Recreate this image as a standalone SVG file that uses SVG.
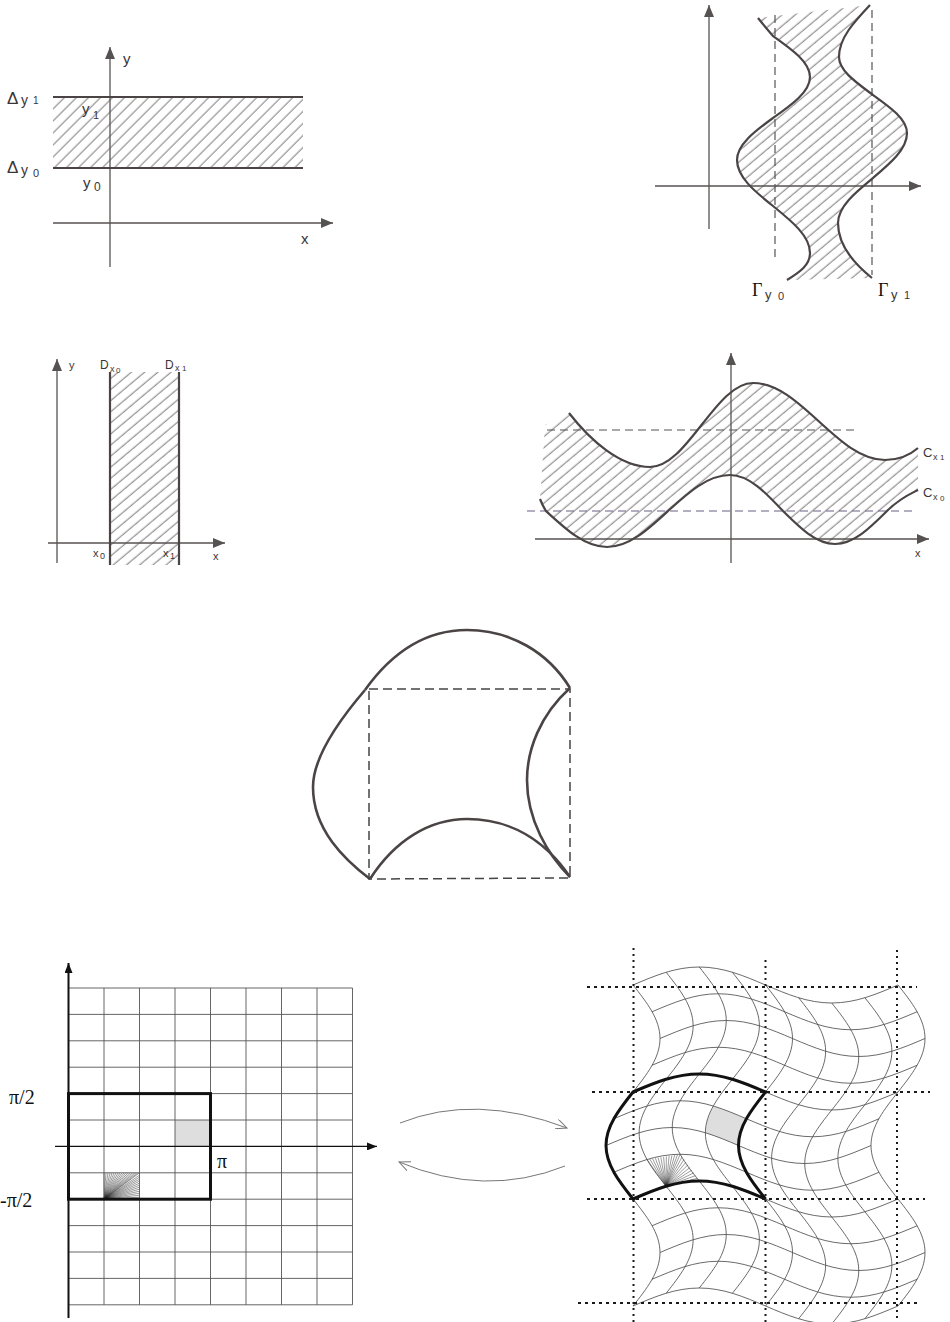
<svg xmlns="http://www.w3.org/2000/svg" xmlns:xlink="http://www.w3.org/1999/xlink" width="950" height="1322" viewBox="0 0 950 1322">
<style>
.ax{stroke:#575252;stroke-width:1.3;fill:none}
.bd{stroke:#4b4444;stroke-width:2.2;fill:none}
.ds{stroke:#555;stroke-width:1.2;fill:none;stroke-dasharray:8 5}
.t{font-family:"Liberation Sans",Arial,sans-serif;fill:#3a3535}
.ts{font-family:"Liberation Serif","Times New Roman",serif;fill:#111}
.gr{stroke:#555;stroke-width:0.9;fill:none}
.wg{stroke:#444;stroke-width:0.8;fill:none}
.dot{stroke:#1a1a1a;stroke-width:2;fill:none;stroke-dasharray:2 4}
.thick{stroke:#111;stroke-width:3;fill:none;stroke-linejoin:miter}
</style>
<defs>
<marker id="ah" viewBox="0 0 12 10" refX="12" refY="5" markerWidth="12" markerHeight="10" markerUnits="userSpaceOnUse" orient="auto"><path d="M0,0 L12,5 L0,10 z" fill="#575252"/></marker>
<marker id="ahk" viewBox="0 0 10 8" refX="10" refY="4" markerWidth="10" markerHeight="8" markerUnits="userSpaceOnUse" orient="auto"><path d="M0,0 L10,4 L0,8 z" fill="#111"/></marker>
<marker id="oa" viewBox="0 0 12 10" refX="11" refY="5" markerWidth="12" markerHeight="10" markerUnits="userSpaceOnUse" orient="auto"><path d="M0,0 L11,5 L0,10" fill="none" stroke="#777" stroke-width="1"/></marker>
<pattern id="h45" patternUnits="userSpaceOnUse" width="8.5" height="8.5" patternTransform="rotate(45)"><line x1="4" y1="0" x2="4" y2="8.5" stroke="#5a5555" stroke-width="0.8"/></pattern>
<pattern id="h50" patternUnits="userSpaceOnUse" width="8.5" height="8.5" patternTransform="rotate(50)"><line x1="4" y1="0" x2="4" y2="8.5" stroke="#5a5555" stroke-width="0.8"/></pattern>
<clipPath id="c2"><path d="M758,18 C762,23 767,29 773,36 C791.9,49.4 810,62.2 810,77 C810,91.8 791.9,104.6 773,118 C754.1,131.7 737,144.8 737,160 C737,176.7 754.1,191 773,206 C791.9,221.3 810,236 810,253 C810,265 800,272 787,280 L872,278 C852,262 838,243 838,223 C838,206.7 855.1,192.7 873,178 C890.4,163.3 907,149.3 907,133 C907,119.2 890.4,107.4 873,95 C856.4,82.6 839,70.8 839,57 C839,38 854,22 870,5 Z"/></clipPath>
<clipPath id="c4"><path d="M545,425 L569,413 C590,440 620,467 650,467 C668.6,467 684.7,446.5 701.5,425 C718.3,403.5 734.4,383 753,383 C776.9,383 797.5,401.8 819,421.5 C840.5,441.2 861.1,460 885,460 C900,460 910,455 918,448 L918,490 C910,494 900,498 887,511 C870,527.9 853.8,544 835,544 C816.2,544 800,527.9 783,511 C765.7,492.6 749.2,475 730,475 C707.6,475 688.2,492.6 668,511 C648.1,529.4 629.1,547 607,547 C584.9,547 565.9,529.4 546,511 C544,508 542,504 540,499 Z"/></clipPath>
<path id="vl" d="M633,985 C646.83,1002.45 660,1019.14 660,1038.5 C660,1057.86 646.83,1074.55 633,1092 C619.17,1109.45 606,1126.14 606,1145.5 C606,1164.86 619.17,1181.55 633,1199 C646.83,1216.45 660,1233.14 660,1252.5 C660,1271.86 646.83,1288.55 633,1306"/>
<path id="hl" d="M633,1145.5 C654.61,1136.28 675.28,1127.5 699.25,1127.5 C723.23,1127.5 743.9,1136.28 765.5,1145.5 C787.11,1154.72 807.78,1163.5 831.75,1163.5 C855.73,1163.5 876.4,1154.72 898,1145.5"/>
</defs>
<rect width="950" height="1322" fill="#fff"/>

<g id="panel-horizontal-strip">
<rect x="53" y="97" width="250" height="71" fill="url(#h45)"/>
<line class="ax" x1="110" y1="267" x2="110" y2="47" marker-end="url(#ah)"/>
<line class="ax" x1="53" y1="223" x2="333" y2="223" marker-end="url(#ah)"/>
<line class="bd" x1="53" y1="97" x2="303" y2="97"/>
<line class="bd" x1="53" y1="168" x2="303" y2="168"/>
<text class="t" x="123" y="64" font-size="15">y</text>
<text class="t" x="301" y="244" font-size="15">x</text>
<text class="t" x="7" y="104" font-size="17">Δ</text><text class="t" x="21" y="105" font-size="14">y</text><text class="t" x="33" y="104" font-size="10">1</text>
<text class="t" x="7" y="173" font-size="17">Δ</text><text class="t" x="21" y="175" font-size="14">y</text><text class="t" x="33" y="177" font-size="11">0</text>
<text class="t" x="82" y="114" font-size="15">y</text><text class="t" x="93" y="119" font-size="11">1</text>
<text class="t" x="83" y="188" font-size="15">y</text><text class="t" x="94" y="191" font-size="12">0</text>
</g>

<g id="panel-gamma">
<rect x="730" y="0" width="190" height="285" fill="url(#h50)" clip-path="url(#c2)"/>
<line class="ax" x1="709" y1="229" x2="709" y2="5" marker-end="url(#ah)"/>
<line class="ax" x1="655" y1="186" x2="921" y2="186" marker-end="url(#ah)"/>
<line class="ds" x1="775" y1="15" x2="775" y2="258"/>
<line class="ds" x1="872" y1="10" x2="872" y2="275"/>
<path class="bd" d="M758,18 C762,23 767,29 773,36 C791.9,49.4 810,62.2 810,77 C810,91.8 791.9,104.6 773,118 C754.1,131.7 737,144.8 737,160 C737,176.7 754.1,191 773,206 C791.9,221.3 810,236 810,253 C810,265 800,272 787,280"/>
<path class="bd" d="M870,5 C854,22 839,38 839,57 C839,70.8 856.4,82.6 873,95 C890.4,107.4 907,119.2 907,133 C907,149.3 890.4,163.3 873,178 C855.1,192.7 838,206.7 838,223 C838,243 852,262 872,278"/>
<text class="ts" x="752" y="296" font-size="18" fill="#3a3535">Γ</text><text class="t" x="765" y="299" font-size="13">y</text><text class="t" x="778" y="300" font-size="11">0</text>
<text class="ts" x="878" y="296" font-size="18" fill="#3a3535">Γ</text><text class="t" x="891" y="299" font-size="13">y</text><text class="t" x="904" y="299" font-size="11">1</text>
</g>

<g id="panel-vertical-strip">
<rect x="110" y="372" width="69" height="193" fill="url(#h50)"/>
<line class="ax" x1="57" y1="563" x2="57" y2="359" marker-end="url(#ah)"/>
<line class="ax" x1="48" y1="543" x2="225" y2="543" marker-end="url(#ah)"/>
<line class="bd" x1="110" y1="372" x2="110" y2="565"/>
<line class="bd" x1="179" y1="372" x2="179" y2="565"/>
<text class="t" x="69" y="369" font-size="11">y</text>
<text class="t" x="100" y="369" font-size="12">D</text><text class="t" x="110" y="372" font-size="9">x</text><text class="t" x="116" y="373" font-size="8">0</text>
<text class="t" x="165" y="369" font-size="12">D</text><text class="t" x="175" y="371" font-size="9">x</text><text class="t" x="182" y="371" font-size="8">1</text>
<text class="t" x="93" y="557" font-size="11">x</text><text class="t" x="100" y="559" font-size="9">0</text>
<text class="t" x="163" y="557" font-size="11">x</text><text class="t" x="170" y="559" font-size="9">1</text>
<text class="t" x="213" y="560" font-size="11">x</text>
</g>

<g id="panel-wave-band">
<rect x="535" y="375" width="390" height="180" fill="url(#h50)" clip-path="url(#c4)"/>
<line class="ax" x1="731" y1="563" x2="731" y2="353" marker-end="url(#ah)"/>
<line class="ax" x1="535" y1="539" x2="929" y2="539" marker-end="url(#ah)"/>
<line class="ds" x1="547" y1="430" x2="858" y2="430"/>
<line class="ds" x1="527" y1="511" x2="917" y2="511" style="stroke:#6a5f85"/>
<path class="bd" d="M569,413 C590,440 620,467 650,467 C668.6,467 684.7,446.5 701.5,425 C718.3,403.5 734.4,383 753,383 C776.9,383 797.5,401.8 819,421.5 C840.5,441.2 861.1,460 885,460 C900,460 910,455 918,448"/>
<path class="bd" d="M540,499 C542,504 544,508 546,511 C565.9,529.4 584.9,547 607,547 C629.1,547 648.1,529.4 668,511 C688.2,492.6 707.6,475 730,475 C749.2,475 765.7,492.6 783,511 C800,527.9 816.2,544 835,544 C853.8,544 870,527.9 887,511 C900,498 910,494 918,490"/>
<text class="t" x="923" y="457" font-size="13">C</text><text class="t" x="933" y="460" font-size="9">x</text><text class="t" x="940" y="460" font-size="8">1</text>
<text class="t" x="923" y="497" font-size="13">C</text><text class="t" x="933" y="500" font-size="9">x</text><text class="t" x="940" y="501" font-size="8">0</text>
<text class="t" x="915" y="557" font-size="11">x</text>
</g>

<g id="panel-curved-square">
<path d="M369,689 L570,689 L570,878 L369,879 Z" fill="none" stroke="#444" stroke-width="1.5" stroke-dasharray="9 5"/>
<path class="bd" style="stroke-width:2.6" d="M365,690 C395,648 430,630 467,630 C510,630 548,652 570,688"/>
<path class="bd" style="stroke-width:2.6" d="M365,690 C335,725 313,760 313,787 C313,830 345,860 370,879"/>
<path class="bd" style="stroke-width:2.6" d="M570,688 C540,715 527,750 527,780 C527,820 548,855 570,877"/>
<path class="bd" style="stroke-width:2.6" d="M370,879 C395,840 430,819 467,819 C510,819 545,840 570,877"/>
</g>

<g id="panel-grid">
<rect x="175" y="1120" width="35.5" height="26.4" fill="#dedede"/>
<path stroke="#222" stroke-width="0.45" fill="none" d="M104,1199.2 l0,-26.4 M104,1199.2 l2,-26.4 M104,1199.2 l4,-26.4 M104,1199.2 l6,-26.4 M104,1199.2 l8,-26.4 M104,1199.2 l10,-26.4 M104,1199.2 l12,-26.4 M104,1199.2 l14,-26.4 M104,1199.2 l16,-26.4 M104,1199.2 l18,-26.4 M104,1199.2 l20,-26.4 M104,1199.2 l22,-26.4 M104,1199.2 l24,-26.4 M104,1199.2 l26,-26.4 M104,1199.2 l28,-26.4 M104,1199.2 l30,-26.4 M104,1199.2 l32,-26.4 M104,1199.2 l34,-26.4 M104,1199.2 l35.5,-26.4 M104,1199.2 l35.5,-24 M104,1199.2 l35.5,-22 M104,1199.2 l35.5,-20 M104,1199.2 l35.5,-18 M104,1199.2 l35.5,-16 M104,1199.2 l35.5,-14 M104,1199.2 l35.5,-12 M104,1199.2 l35.5,-10 M104,1199.2 l35.5,-8 M104,1199.2 l35.5,-6 M104,1199.2 l35.5,-4 M104,1199.2 l35.5,-2"/>
<path class="gr" d="M104,988 V1304.8 M139.5,988 V1304.8 M175,988 V1304.8 M210.5,988 V1304.8 M246,988 V1304.8 M281.5,988 V1304.8 M317,988 V1304.8 M352.5,988 V1304.8 M68.5,988 H352.5 M68.5,1014.4 H352.5 M68.5,1040.8 H352.5 M68.5,1067.2 H352.5 M68.5,1093.6 H352.5 M68.5,1120 H352.5 M68.5,1172.8 H352.5 M68.5,1199.2 H352.5 M68.5,1225.6 H352.5 M68.5,1252 H352.5 M68.5,1278.4 H352.5 M68.5,1304.8 H352.5"/>
<line x1="68.5" y1="1318" x2="68.5" y2="963" stroke="#111" stroke-width="2" marker-end="url(#ahk)"/>
<line x1="55" y1="1146.4" x2="377" y2="1146.4" stroke="#111" stroke-width="1.3" marker-end="url(#ahk)"/>
<rect x="68.5" y="1093.6" width="142" height="105.6" class="thick"/>
<text class="ts" x="9" y="1104" font-size="20">π/2</text>
<text class="ts" x="0" y="1207" font-size="20">-π/2</text>
<text class="ts" x="217" y="1168" font-size="20">π</text>
</g>

<g id="connectors">
<path d="M400,1123 Q475,1093 567,1128" fill="none" stroke="#777" stroke-width="1" marker-end="url(#oa)"/>
<path d="M565,1166 Q485,1198 399,1162" fill="none" stroke="#777" stroke-width="1" marker-end="url(#oa)"/>
</g>

<g id="panel-warped-grid">
<polygon points="713.3,1106 729.9,1111.9 746.4,1118.75 740.56,1132.1 738.5,1145.5 722,1138.6 705.4,1132.8 707.4,1119.4" fill="#dedede"/>
<path stroke="#222" stroke-width="0.45" fill="none" d="M666.1,1186.3 l-19.1,-26.8 M666.1,1186.3 l-16.33,-27.24 M666.1,1186.3 l-13.57,-27.68 M666.1,1186.3 l-10.8,-28.11 M666.1,1186.3 l-8.03,-28.55 M666.1,1186.3 l-5.27,-28.99 M666.1,1186.3 l-2.5,-29.43 M666.1,1186.3 l0.27,-29.86 M666.1,1186.3 l3.03,-30.3 M666.1,1186.3 l5.8,-30.74 M666.1,1186.3 l8.57,-31.18 M666.1,1186.3 l11.33,-31.61 M666.1,1186.3 l14.1,-32.05 M666.1,1186.3 l16,-29.37 M666.1,1186.3 l17.91,-26.7 M666.1,1186.3 l19.82,-24.02 M666.1,1186.3 l21.72,-21.35 M666.1,1186.3 l23.63,-18.67 M666.1,1186.3 l25.53,-16 M666.1,1186.3 l27.44,-13.32 M666.1,1186.3 l29.34,-10.65 M666.1,1186.3 l31.25,-7.97"/>
<g class="wg">
<use href="#vl"/>
<use href="#vl" transform="translate(33.125,-12.73)"/>
<use href="#vl" transform="translate(66.25,-18)"/>
<use href="#vl" transform="translate(99.375,-12.73)"/>
<use href="#vl" transform="translate(132.5,0)"/>
<use href="#vl" transform="translate(165.625,12.73)"/>
<use href="#vl" transform="translate(198.75,18)"/>
<use href="#vl" transform="translate(231.875,12.73)"/>
<use href="#vl" transform="translate(265,0)"/>
<use href="#hl" transform="translate(0,-160.5)"/>
<use href="#hl" transform="translate(19.09,-133.75)"/>
<use href="#hl" transform="translate(27,-107)"/>
<use href="#hl" transform="translate(19.09,-80.25)"/>
<use href="#hl" transform="translate(0,-53.5)"/>
<use href="#hl" transform="translate(-19.09,-26.75)"/>
<use href="#hl" transform="translate(-27,0)"/>
<use href="#hl" transform="translate(-19.09,26.75)"/>
<use href="#hl" transform="translate(0,53.5)"/>
<use href="#hl" transform="translate(19.09,80.25)"/>
<use href="#hl" transform="translate(27,107)"/>
<use href="#hl" transform="translate(19.09,133.75)"/>
<use href="#hl" transform="translate(0,160.5)"/>
</g>
<path class="thick" d="M633,1092 C654.61,1082.78 675.28,1074 699.25,1074 C723.23,1074 743.9,1082.78 765.5,1092 C751.67,1109.45 738.5,1126.14 738.5,1145.5 C738.5,1164.86 751.67,1181.55 765.5,1199 C743.9,1189.78 723.23,1181 699.25,1181 C675.28,1181 654.61,1189.78 633,1199 C619.17,1181.55 606,1164.86 606,1145.5 C606,1126.14 619.17,1109.45 633,1092 Z"/>
<line class="dot" x1="633.5" y1="948" x2="633.5" y2="1322"/>
<line class="dot" x1="765.5" y1="960" x2="765.5" y2="1322"/>
<line class="dot" x1="897" y1="950" x2="897" y2="1322"/>
<line class="dot" style="stroke-dasharray:3 4" x1="587" y1="987" x2="917" y2="987"/>
<line class="dot" style="stroke-dasharray:3 4" x1="592" y1="1092" x2="930" y2="1092"/>
<line class="dot" style="stroke-dasharray:3 4" x1="587" y1="1199" x2="925" y2="1199"/>
<line class="dot" style="stroke-dasharray:3 4" x1="578" y1="1303" x2="917" y2="1303"/>
</g>
</svg>
